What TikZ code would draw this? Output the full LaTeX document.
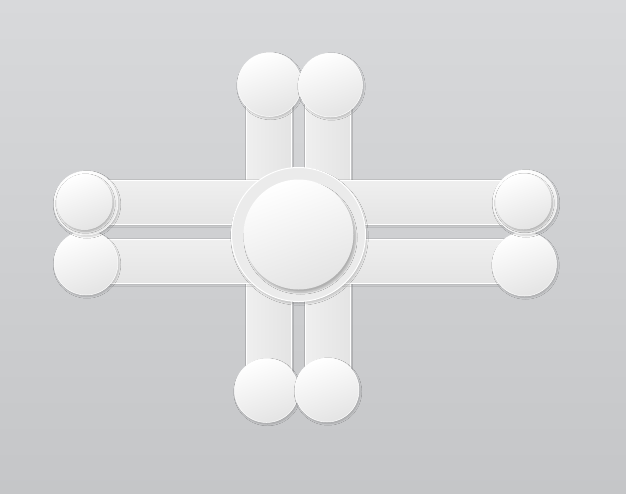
\documentclass[tikz,border=0pt]{standalone}
\usetikzlibrary{shadows,shadows.blur}
\definecolor{bgtop}{HTML}{D8D9DB}
\definecolor{bgbot}{HTML}{C5C6C8}
\definecolor{barA}{HTML}{EFEFEF}
\definecolor{barB}{HTML}{E4E4E4}
\definecolor{discA}{HTML}{FFFFFF}
\definecolor{discB}{HTML}{E4E4E4}
\definecolor{ringC}{HTML}{EBEBEB}
\tikzset{
  hbar/.style={rectangle, inner sep=0pt, minimum width=439pt, minimum height=44pt,
    top color=barA, bottom color=barB, draw=white, line width=0.8pt,
    blur shadow={shadow blur steps=6, shadow xshift=0pt, shadow yshift=-1.5pt, shadow opacity=15}},
  vbar/.style={rectangle, inner sep=0pt, minimum width=45pt, minimum height=305pt,
    left color=barA, right color=barB, draw=white, line width=0.8pt,
    blur shadow={shadow blur steps=6, shadow xshift=1pt, shadow yshift=0pt, shadow opacity=15}},
  disc/.style={circle, inner sep=0pt, minimum size=64pt,
    shading=axis, top color=discA, bottom color=discB, shading angle=20, draw=white, line width=0.5pt,
    blur shadow={shadow blur steps=8, shadow xshift=1pt, shadow yshift=-1.5pt, shadow opacity=20}},
  ringdisc/.style={circle, inner sep=0pt, minimum size=56pt,
    top color=discA, bottom color=discB, shading angle=20,
    blur shadow={shadow blur steps=6, shadow xshift=1pt, shadow yshift=-1.5pt, shadow opacity=25}},
  bigring/.style={circle, inner sep=0pt, minimum size=134pt, fill=ringC, draw=white, line width=1pt,
    blur shadow={shadow blur steps=8, shadow xshift=1pt, shadow yshift=-2pt, shadow opacity=18}},
  bigdisc/.style={circle, inner sep=0pt, minimum size=110pt,
    top color=discA, bottom color=discB, shading angle=20,
    blur shadow={shadow blur steps=8, shadow xshift=2pt, shadow yshift=-3pt, shadow opacity=25}}
}
\begin{document}
\begin{tikzpicture}[x=1pt,y=-1pt]
\useasboundingbox (0,0) rectangle (626,493);
\shade[top color=bgtop, bottom color=bgbot] (0,0) rectangle (626,493);
% vertical bars
\node[vbar] (vl) at (268.5,237.5) {};
\node[vbar] (vr) at (327.5,237.5) {};
% horizontal bars
\node[hbar] (hu) at (305.5,202) {};
\node[hbar] (hl) at (305.5,261) {};
% top circles
\node[disc] (tl) at (269.5,84.5) {};
\node[disc] (tr) at (330.5,85) {};
% bottom circles
\node[disc] (bl) at (266.5,390.5) {};
\node[disc] (br) at (327,390) {};
% side circles
\node[disc] (ll) at (86,263) {};
\node[disc] (rl) at (524.5,264) {};
\node[disc] (lu) at (86,203) {};
\node[ringdisc] (lui) at (84.5,202) {};
\node[disc] (ru) at (525,202) {};
\node[ringdisc] (rui) at (523.5,201.5) {};
% centre
\node[bigring] (cr) at (298.5,234.5) {};
\node[bigdisc] (cd) at (298.5,234.5) {};
\end{tikzpicture}
\end{document}
